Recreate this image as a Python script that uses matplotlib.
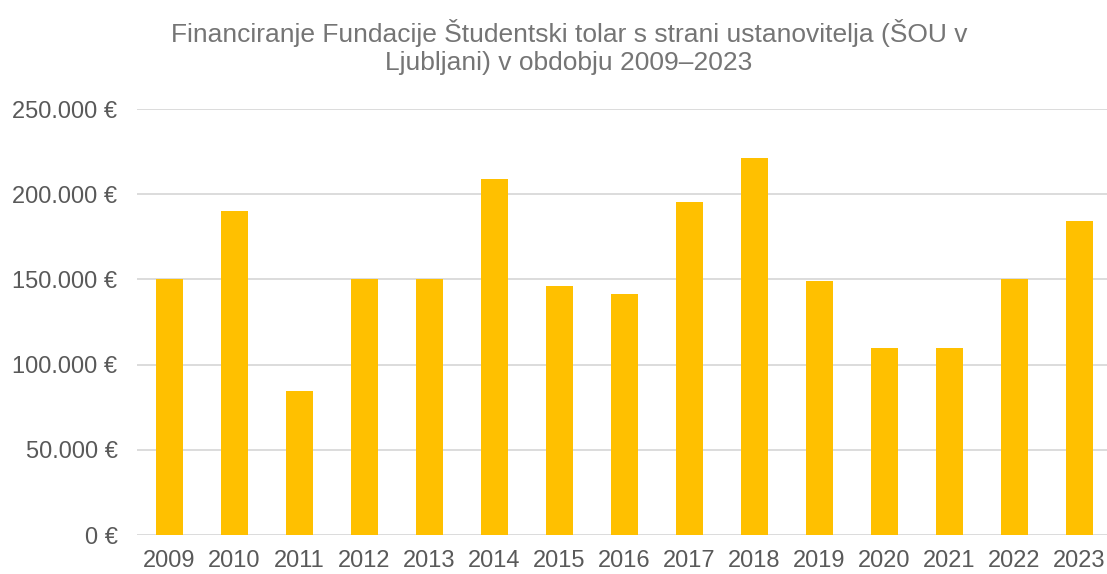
import matplotlib.pyplot as plt
from matplotlib.ticker import FuncFormatter

years = ['2009', '2010', '2011', '2012', '2013', '2014', '2015', '2016',
         '2017', '2018', '2019', '2020', '2021', '2022', '2023']
funding = [150000, 190000, 84500, 150000, 150000, 208800, 146400, 141300,
           195200, 221200, 149100, 109700, 109700, 150300, 184200]
yticks = [0, 50000, 100000, 150000, 200000, 250000]

plt.rcParams['font.family'] = ['Liberation Sans', 'DejaVu Sans']

fig = plt.figure(figsize=(11.07, 5.74), dpi=100)
ax = fig.add_axes([137 / 1107, 39 / 574, (1112 - 137) / 1107, (535 - 109) / 574])

x = range(len(years))
ax.bar(x, funding, width=0.425, color='#FFC000', zorder=3)

ax.set_xlim(-0.5, len(years) - 0.5)
ax.set_ylim(0, 250000)
ax.set_xticks(list(x))
ax.set_xticklabels(years)
ax.set_yticks(yticks)


def euro(v, pos):
    return f"{int(v):,} €".replace(',', '.')


ax.yaxis.set_major_formatter(FuncFormatter(euro))
ax.grid(axis='y', color='#d9d9d9', linewidth=1.3, zorder=0)
for s in ax.spines.values():
    s.set_visible(False)
ax.tick_params(axis='both', length=0, labelsize=17, labelcolor='#595959')
ax.tick_params(axis='y', pad=14)
ax.tick_params(axis='x', pad=11)

fig.text(569 / 1107, 1 - 47 / 574,
         "Financiranje Fundacije Študentski tolar s strani ustanovitelja (ŠOU v\n"
         "Ljubljani) v obdobju 2009–2023",
         ha='center', va='center', fontsize=19, color='#757575', linespacing=1.2)

fig.savefig('out.png', dpi=100)
